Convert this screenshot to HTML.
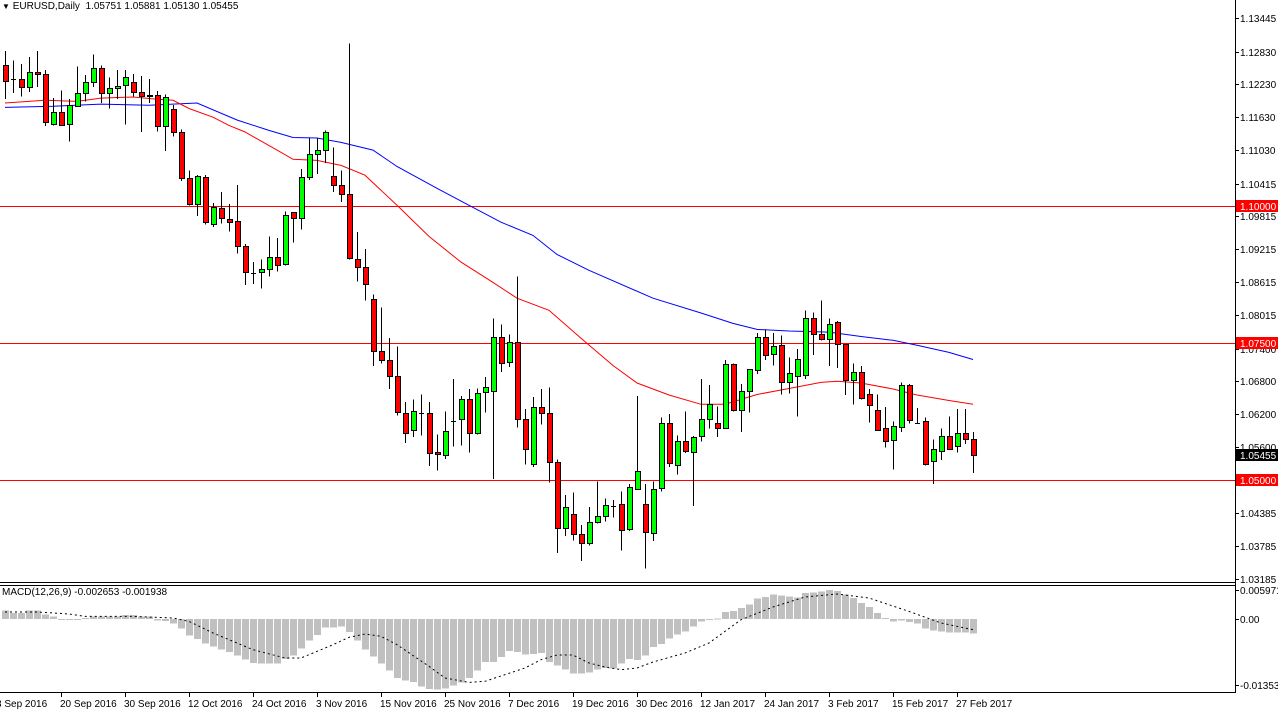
<!DOCTYPE html>
<html><head><meta charset="utf-8"><style>
html,body{margin:0;padding:0;background:#fff;}
svg{display:block;font-family:"Liberation Sans",sans-serif;font-size:10px;}
</style></head><body>
<svg id="c" width="1278" height="715" viewBox="0 0 1278 715"></svg>
<script>
const opens=[1.1258,1.1233,1.1233,1.1218,1.1245,1.1242,1.1150,1.1172,1.1150,1.1183,
1.1207,1.1227,1.1253,1.1207,1.1216,1.1222,1.1227,1.1209,1.1203,1.1203,
1.1147,1.1178,1.1136,1.1051,1.1004,1.1053,1.0967,1.0997,1.0976,1.0973,
1.0927,1.0880,1.0880,1.0885,1.0907,1.0894,1.0989,1.0978,1.1053,1.1095,
1.1103,1.1055,1.1039,1.1022,1.0903,1.0889,1.0830,1.0735,1.0719,1.0689,
1.0623,1.0591,1.0623,1.0623,1.0550,1.0545,1.0609,1.0611,1.0647,1.0585,
1.0660,1.0664,1.0762,1.0715,1.0752,1.0611,1.0528,1.0633,1.0622,1.0532,
1.0411,1.0437,1.0400,1.0384,1.0422,1.0433,1.0453,1.0455,1.0409,1.0483,
1.0455,1.0404,1.0484,1.0603,1.0527,1.0571,1.0552,1.0580,1.0611,1.0603,
1.0594,1.0711,1.0627,1.0662,1.0700,1.0761,1.0730,1.0746,1.0678,1.0689,
1.0691,1.0795,1.0766,1.0757,1.0788,1.0748,1.0682,1.0697,1.0656,1.0627,
1.0594,1.0572,1.0596,1.0673,1.0605,1.0607,1.0534,1.0552,1.0580,1.0561,
1.0585,1.0574];
const highs=[1.1284,1.1267,1.1260,1.1273,1.1284,1.1249,1.1198,1.1212,1.1196,1.1256,
1.1240,1.1278,1.1258,1.1236,1.1249,1.1249,1.1242,1.1238,1.1233,1.1211,
1.1205,1.1185,1.1141,1.1066,1.1057,1.1057,1.1006,1.1026,1.1004,1.1039,
1.0931,1.0898,1.0903,1.0945,1.0942,1.0991,1.0989,1.1068,1.1125,1.1125,
1.1139,1.1108,1.1066,1.1298,1.0953,1.0922,1.0839,1.0815,1.0759,1.0744,
1.0642,1.0647,1.0656,1.0642,1.0583,1.0625,1.0684,1.0653,1.0666,1.0667,
1.0688,1.0795,1.0784,1.0766,1.0872,1.0629,1.0651,1.0666,1.0669,1.0537,
1.0472,1.0477,1.0417,1.0450,1.0497,1.0466,1.0463,1.0479,1.0492,1.0653,
1.0492,1.0497,1.0614,1.0620,1.0581,1.0625,1.0580,1.0684,1.0673,1.0634,
1.0719,1.0713,1.0675,1.0702,1.0768,1.0775,1.0768,1.0764,1.0724,1.0739,
1.0810,1.0806,1.0828,1.0795,1.0790,1.0748,1.0713,1.0708,1.0666,1.0656,
1.0633,1.0607,1.0678,1.0675,1.0631,1.0614,1.0574,1.0594,1.0616,1.0629,
1.0629,1.0587];
const lows=[1.1196,1.1207,1.1201,1.1209,1.1218,1.1147,1.1148,1.1147,1.1119,1.1183,
1.1192,1.1218,1.1189,1.1179,1.1196,1.1150,1.1201,1.1136,1.1189,1.1137,
1.1101,1.1128,1.1046,1.1002,1.0982,1.0967,1.0962,1.0969,1.0954,1.0914,
1.0856,1.0858,1.0850,1.0872,1.0881,1.0892,1.0934,1.0958,1.1048,1.1059,
1.1079,1.1026,1.1008,1.0903,1.0863,1.0828,1.0708,1.0713,1.0666,1.0618,
1.0567,1.0578,1.0581,1.0525,1.0517,1.0538,1.0561,1.0563,1.0550,1.0583,
1.0623,1.0501,1.0697,1.0706,1.0596,1.0528,1.0523,1.0601,1.0495,1.0366,
1.0397,1.0389,1.0351,1.0380,1.0420,1.0424,1.0431,1.0371,1.0406,1.0481,
1.0338,1.0388,1.0479,1.0523,1.0510,1.0549,1.0452,1.0570,1.0594,1.0578,
1.0594,1.0625,1.0587,1.0623,1.0693,1.0719,1.0709,1.0656,1.0658,1.0616,
1.0684,1.0728,1.0755,1.0708,1.0704,1.0655,1.0638,1.0647,1.0605,1.0589,
1.0559,1.0519,1.0587,1.0603,1.0602,1.0526,1.0492,1.0536,1.0554,1.0550,
1.0565,1.0512];
const closes=[1.1229,1.1233,1.1218,1.1245,1.1242,1.1154,1.1172,1.1148,1.1185,1.1207,
1.1227,1.1253,1.1207,1.1216,1.1220,1.1236,1.1209,1.1201,1.1201,1.1147,
1.1200,1.1136,1.1051,1.1004,1.1055,1.0971,1.0998,1.0978,1.0971,1.0927,
1.0880,1.0879,1.0885,1.0907,1.0892,1.0984,1.0978,1.1053,1.1095,1.1103,
1.1136,1.1039,1.1022,1.0905,1.0889,1.0858,1.0735,1.0719,1.0689,1.0623,
1.0587,1.0625,1.0622,1.0550,1.0547,1.0589,1.0608,1.0647,1.0585,1.0658,
1.0669,1.0762,1.0715,1.0752,1.0611,1.0556,1.0633,1.0622,1.0532,1.0411,
1.0450,1.0400,1.0384,1.0422,1.0433,1.0453,1.0452,1.0408,1.0486,1.0516,
1.0404,1.0484,1.0603,1.0530,1.0571,1.0552,1.0579,1.0611,1.0638,1.0594,
1.0711,1.0627,1.0662,1.0702,1.0761,1.0728,1.0744,1.0678,1.0695,1.0720,
1.0795,1.0766,1.0757,1.0784,1.0748,1.0682,1.0697,1.0649,1.0636,1.0591,
1.0570,1.0598,1.0673,1.0609,1.0604,1.0528,1.0556,1.0580,1.0556,1.0585,
1.0574,1.0545];
const maFastIdx=[0,5,9,12,16,19,21,23,26,28,30,34,36,39,42,45,49,53,57,61,64,68,72,76,79,83,87,90,94,98,102,104,107,111,114,118,121];
const maFastVal=[1.1189,1.1194,1.1192,1.1198,1.1200,1.1196,1.1194,1.1179,1.1163,1.1148,1.1136,1.1103,1.1086,1.1084,1.1075,1.1057,1.1002,1.0945,1.0898,1.0861,1.0832,1.0810,1.0759,1.0709,1.0677,1.0655,1.0638,1.0638,1.0656,1.0667,1.0678,1.0680,1.0677,1.0666,1.0655,1.0645,1.0638];
const maSlowIdx=[0,6,12,18,24,29,33,36,39,42,46,49,54,58,62,66,69,73,81,87,91,94,98,103,107,111,114,118,121];
const maSlowVal=[1.1181,1.1183,1.1187,1.1185,1.1189,1.1158,1.1139,1.1126,1.1125,1.1117,1.1103,1.1073,1.1033,1.1002,1.0971,1.0947,1.0912,1.0883,1.0832,1.0805,1.0786,1.0775,1.0772,1.0770,1.0762,1.0755,1.0746,1.0733,1.0720];
const levels=[1.1000,1.0750,1.0500];
const priceTicks=["1.13445","1.12830","1.12230","1.11630","1.11030","1.10415","1.09815","1.09215","1.08615","1.08015","1.07400","1.06800","1.06200","1.05600","1.04385","1.03785","1.03185"];
const macdHist=[1.77,1.22,1.22,1.77,1.77,0.88,0.54,0,-0.14,-0.14,0.2,0.54,0.54,0.54,0.54,0.82,0.82,0.54,0.54,-0.27,
-0.41,-0.95,-1.97,-3.40,-4.08,-5.03,-5.58,-6.26,-6.73,-7.48,-8.30,-8.98,-9.12,-9.12,-9.12,-8.16,-7.48,-5.99,-4.42,-3.27,
-1.70,-1.70,-1.56,-2.65,-4.42,-6.26,-7.62,-9.12,-10.54,-12.04,-12.59,-12.86,-13.74,-14.29,-14.42,-14.15,-13.61,-12.93,-12.04,-10.54,
-8.78,-8.78,-7.76,-6.53,-6.73,-7.28,-7.14,-6.94,-8.78,-9.52,-10.34,-11.16,-11.16,-10.88,-10.34,-10.0,-10.14,-9.12,-8.16,-8.37,
-7.48,-5.71,-5.10,-4.01,-3.20,-2.52,-1.56,-0.54,-0.14,0.1,1.43,1.63,2.24,2.99,4.15,4.49,4.97,4.76,4.63,4.42,
5.31,5.44,5.58,5.92,5.71,4.97,4.29,3.27,2.45,1.22,0.2,-0.48,-0.34,-0.61,-0.95,-1.97,-2.38,-2.59,-2.72,-2.72,
-2.72,-2.99];
const sigIdx=[0,4,8,10,16,21,23,26,31,35,37,41,43,45,47,49,53,55,58,60,65,67,69,71,73,75,77,79,81,85,88,92,96,100,104,108,113,117,121];
const sigVal=[1.43,1.43,1.02,0.54,0.54,0.2,-0.48,-2.86,-6.26,-7.96,-7.96,-5.24,-3.74,-3.06,-3.54,-5.24,-9.66,-12.04,-12.93,-12.72,-10.0,-8.30,-7.35,-7.35,-8.98,-9.80,-10.34,-10.0,-8.78,-6.94,-4.90,-0.14,2.45,4.49,5.10,4.29,1.56,-0.82,-2.18];
const dateLabels=["8 Sep 2016","20 Sep 2016","30 Sep 2016","12 Oct 2016","24 Oct 2016","3 Nov 2016","15 Nov 2016","25 Nov 2016","7 Dec 2016","19 Dec 2016","30 Dec 2016","12 Jan 2017","24 Jan 2017","3 Feb 2017","15 Feb 2017","27 Feb 2017"];
const dateIdx=[-1,7,15,23,31,39,47,55,63,71,79,87,95,103,111,119];

const NS="http://www.w3.org/2000/svg";
const svg=document.getElementById('c');
function X(i){return 5+8*i;}
function Y(p){return 18+(1.13445-p)*5468;}
function MY(v){return 619-v*4.9;}
function mk(tag,attrs,parent){const e=document.createElementNS(NS,tag);for(const k in attrs)e.setAttribute(k,attrs[k]);(parent||svg).appendChild(e);return e;}

let g=mk('g',{'shape-rendering':'crispEdges'});


mk('line',{x1:0,y1:582.5,x2:1235,y2:582.5,stroke:'#000'},g);
mk('line',{x1:0,y1:585.5,x2:1235,y2:585.5,stroke:'#000'},g);
mk('line',{x1:0,y1:692.5,x2:1235,y2:692.5,stroke:'#000'},g);
mk('line',{x1:1235.5,y1:0,x2:1235.5,y2:693,stroke:'#000'},g);

levels.forEach(l=>{const e=mk('line',{x1:0,y1:Math.round(Y(l))+0.5,x2:1235,y2:Math.round(Y(l))+0.5,stroke:'#ff0000','shape-rendering':'crispEdges'});

});

function pl(idx,vals,color,name){const pts=idx.map((i,k)=>X(i)+','+Y(vals[k]).toFixed(1)).join(' ');
const e=mk('polyline',{points:pts,fill:'none',stroke:color,'stroke-width':1});

}
pl(maSlowIdx,maSlowVal,'#0000ff','moving-average-slow');
pl(maFastIdx,maFastVal,'#ff0000','moving-average-fast');

const cg=mk('g',{'shape-rendering':'crispEdges'});


for(let i=0;i<opens.length;i++){
 const x=X(i),o=opens[i],c=closes[i];
 const w=mk('line',{x1:x+0.5,y1:Y(highs[i]),x2:x+0.5,y2:Y(lows[i]),stroke:'#000'},cg);
 
 
 let b;
 if(Math.abs(c-o)<0.00015){
  b=mk('line',{x1:x-2,y1:Math.round(Y(c))+0.5,x2:x+3,y2:Math.round(Y(c))+0.5,stroke:'#000'},cg);
 } else {
  const t=Y(Math.max(o,c)),bt=Y(Math.min(o,c));
  b=mk('rect',{x:x-1.5,y:Math.round(t)+0.5,width:5,height:Math.max(1,Math.round(bt-t)),fill:c>o?'#00ff00':'#ff0000',stroke:'#000','stroke-width':1},cg);
 }
 
 
}

const ag=mk('g',{});


priceTicks.forEach(t=>{const y=Math.round(Y(parseFloat(t)));
 mk('line',{x1:1235,y1:y+0.5,x2:1239,y2:y+0.5,stroke:'#000'},ag);
 const tx=mk('text',{x:1240,y:y+4,fill:'#000'},ag);tx.textContent=t;
 
 });
function badge(p,bg,name,txt){const y=Math.round(Y(p));
 const r=mk('rect',{x:1236,y:y-6,width:42,height:12,fill:bg},ag);
 
 
 const t=mk('text',{x:1240,y:y+4,fill:'#fff'},ag);t.textContent=txt;
 
 }
badge(1.1000,'#ff0000','level-badge','1.10000');
badge(1.0750,'#ff0000','level-badge','1.07500');
badge(1.0500,'#ff0000','level-badge','1.05000');
badge(closes[closes.length-1],'#000','current-price-badge','1.05455');

const mg=mk('g',{'shape-rendering':'crispEdges'});


macdHist.forEach((v,i)=>{const y0=MY(0),y1=MY(v);
 const r=mk('rect',{x:X(i)-3,y:Math.min(y0,y1),width:7,height:Math.max(1,Math.abs(y1-y0)),fill:'#c0c0c0'},mg);
 
 });
const sp=mk('polyline',{points:sigIdx.map((i,k)=>X(i)+','+MY(sigVal[k]).toFixed(1)).join(' '),fill:'none',stroke:'#000','stroke-width':1,'stroke-dasharray':'2,3'});


[["0.005971",5.971],["0.00",0],["-0.013535",-13.535]].forEach(a=>{const y=Math.round(MY(a[1]));
 mk('line',{x1:1235,y1:y+0.5,x2:1239,y2:y+0.5,stroke:'#000'});
 const t=mk('text',{x:1240,y:y+4,fill:'#000'});t.textContent=a[0];
 
 });

dateLabels.forEach((d,k)=>{const x=X(dateIdx[k]);
 mk('line',{x1:x+0.5,y1:692,x2:x+0.5,y2:697,stroke:'#000'});
 const t=mk('text',{x:x-1,y:707,fill:'#000'});t.textContent=d;
 
 });
</script>
<div style="position:absolute;left:2px;top:1px;font:10px 'Liberation Sans',sans-serif;color:#000;"><span style="font-size:8px">▼</span> EURUSD,Daily&nbsp; 1.05751 1.05881 1.05130 1.05455</div>
<div style="position:absolute;left:2px;top:587px;font:10px 'Liberation Sans',sans-serif;color:#000;">MACD(12,26,9) -0.002653 -0.001938</div>
</body></html>
